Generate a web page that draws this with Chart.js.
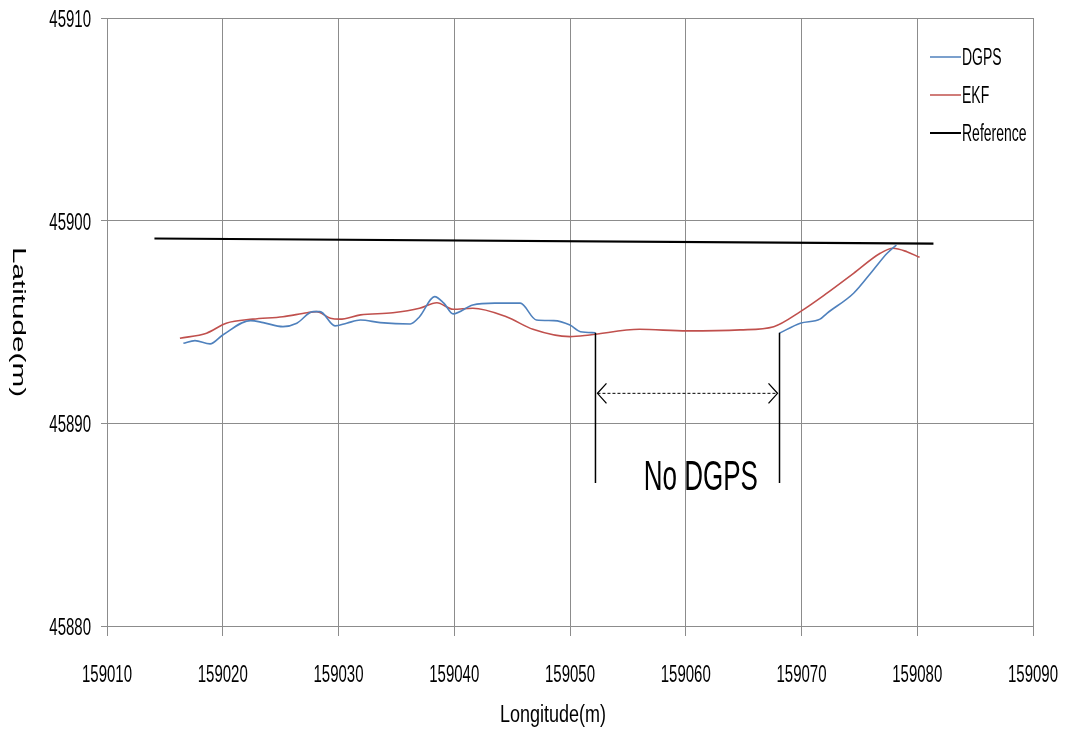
<!DOCTYPE html>
<html>
<head>
<meta charset="utf-8">
<script src="https://cdn.jsdelivr.net/npm/chart.js@4.4.1/dist/chart.umd.min.js"></script>
<style>
  html, body { margin: 0; padding: 0; background: #fff; }
  #wrap { width: 1065px; height: 735px; }
</style>
</head>
<body>
<div id="wrap"><canvas id="chart" width="1065" height="735"></canvas></div>
<script>
// values (longitude / latitude in metres)
const dgpsLon = [159016.6, 159017.6, 159018.9, 159020.0, 159022.4, 159023.5, 159025.2, 159026.4, 159027.8, 159028.4,
  159029.7, 159030.7, 159031.9, 159033.6, 159036.2, 159037.0, 159038.3, 159039.1, 159039.9, 159041.6,
  159043.5, 159045.7, 159047.1, 159048.6, 159050.0, 159050.9, 159052.2, 159060.0,
  159068.1, 159069.9, 159071.6, 159072.2, 159074.5, 159076.2, 159077.4, 159078.2];
const dgpsLat = [45893.95, 45894.08, 45893.92, 45894.36, 45895.07, 45894.97, 45894.77, 45894.94, 45895.51, 45895.51,
  45894.81, 45894.94, 45895.10, 45894.97, 45894.90, 45895.26, 45896.25, 45895.93, 45895.40, 45895.84,
  45895.93, 45895.93, 45895.10, 45895.07, 45894.85, 45894.52, 45894.47, null,
  45894.45, 45894.94, 45895.14, 45895.43, 45896.42, 45897.57, 45898.39, 45898.80];

const ekfLon = [159016.3, 159018.6, 159020.3, 159022.6, 159025.2, 159027.3, 159028.1, 159029.3, 159030.1, 159031.9,
  159034.7, 159037.0, 159038.5, 159039.9, 159041.6, 159044.5, 159046.8, 159050.0, 159051.7, 159056.0,
  159060.1, 159064.7, 159067.6, 159069.9, 159072.2, 159074.5, 159076.8, 159077.9, 159079.1, 159080.2];
const ekfLat = [45894.20, 45894.45, 45894.94, 45895.14, 45895.26, 45895.46, 45895.51, 45895.19, 45895.14, 45895.35,
  45895.46, 45895.68, 45895.95, 45895.63, 45895.68, 45895.26, 45894.64, 45894.28, 45894.36, 45894.64,
  45894.56, 45894.61, 45894.77, 45895.51, 45896.42, 45897.40, 45898.39, 45898.64, 45898.47, 45898.19];

const refLon = [159014.1, 159081.4];
const refLat = [45899.12, 45898.87];

const seriesNames = ['DGPS', 'EKF', 'Reference'];
const seriesColors = ['#4F81BD', '#C0504D', '#000000'];

// "No DGPS" annotation, in data units
const gapStartLon = 159052.2;
const gapEndLon = 159068.1;
const gapTopLat = 45894.47;
const gapBottomLat = 45887.06;
const arrowLat = 45891.48;
const noteLon = 159061.3;
const noteLat = 45886.71;
const noteText = 'No DGPS';

const xTitle = 'Longitude(m)';
const yTitle = 'Latitude(m)';

const FONT = "'Liberation Sans', Arial, sans-serif";
const STRETCH = 1.65; // the original figure is squeezed horizontally

const toPoints = (xs, ys) => xs.map((x, i) => ({ x, y: ys[i] }));

// text drawn tall and narrow like the source image
function tallText(ctx, text, x, y, size, align, k) {
  ctx.save();
  ctx.translate(x, y);
  ctx.scale(1, k || STRETCH);
  ctx.font = size + 'px ' + FONT;
  ctx.textAlign = align;
  ctx.textBaseline = 'alphabetic';
  ctx.fillStyle = '#000';
  ctx.fillText(text, 0, 0);
  ctx.restore();
}

const decorations = {
  id: 'decorations',
  afterDraw(chart) {
    const ctx = chart.ctx;
    const xs = chart.scales.x, ys = chart.scales.y;

    // tick labels
    xs.ticks.forEach(t => {
      tallText(ctx, String(t.value), xs.getPixelForValue(t.value), 682, 15, 'center');
    });
    ys.ticks.forEach(t => {
      tallText(ctx, String(t.value), 91, ys.getPixelForValue(t.value) + 9, 15, 'right');
    });

    // axis titles
    tallText(ctx, xTitle, 553, 722, 18, 'center', 1.35);
    ctx.save();
    ctx.translate(18, 322);
    ctx.scale(1, STRETCH);
    ctx.rotate(Math.PI / 2);
    ctx.font = '18px ' + FONT;
    ctx.textAlign = 'center';
    ctx.textBaseline = 'middle';
    ctx.fillStyle = '#000';
    ctx.fillText(yTitle, 0, 0);
    ctx.restore();

    // legend
    const lx = 930, ly = [57, 95, 133];
    seriesNames.forEach((name, i) => {
      ctx.save();
      ctx.strokeStyle = seriesColors[i];
      ctx.lineWidth = i === 2 ? 2 : 1.5;
      ctx.beginPath();
      ctx.moveTo(lx, ly[i]);
      ctx.lineTo(lx + 31, ly[i]);
      ctx.stroke();
      ctx.restore();
      tallText(ctx, name, lx + 32, ly[i] + 8, 14, 'left');
    });

    // no-DGPS markers
    const x1 = xs.getPixelForValue(gapStartLon), x2 = xs.getPixelForValue(gapEndLon);
    const yt = ys.getPixelForValue(gapTopLat), yb = ys.getPixelForValue(gapBottomLat);
    const ya = ys.getPixelForValue(arrowLat);
    ctx.save();
    ctx.strokeStyle = '#000';
    ctx.lineWidth = 1.5;
    ctx.beginPath();
    ctx.moveTo(x1, yt); ctx.lineTo(x1, yb);
    ctx.moveTo(x2, yt); ctx.lineTo(x2, yb);
    ctx.stroke();

    ctx.lineWidth = 1;
    ctx.setLineDash([3, 2]);
    ctx.beginPath();
    ctx.moveTo(x1 + 2, ya); ctx.lineTo(x2 - 2, ya);
    ctx.stroke();
    ctx.setLineDash([]);
    ctx.lineWidth = 1.3;
    ctx.beginPath();
    ctx.moveTo(x1 + 11, ya - 10); ctx.lineTo(x1 + 2, ya); ctx.lineTo(x1 + 11, ya + 10);
    ctx.moveTo(x2 - 11, ya - 10); ctx.lineTo(x2 - 2, ya); ctx.lineTo(x2 - 11, ya + 10);
    ctx.stroke();
    ctx.restore();

    tallText(ctx, noteText, xs.getPixelForValue(noteLon), ys.getPixelForValue(noteLat), 26, 'center');
  }
};

const lineSet = (label, data, color, width) => ({
  label,
  data,
  showLine: true,
  borderColor: color,
  backgroundColor: color,
  borderWidth: width,
  pointRadius: 0,
  cubicInterpolationMode: 'monotone',
  spanGaps: false,
  fill: false
});

new Chart(document.getElementById('chart'), {
  type: 'scatter',
  data: {
    datasets: [
      lineSet(seriesNames[0], toPoints(dgpsLon, dgpsLat), seriesColors[0], 1.6),
      lineSet(seriesNames[1], toPoints(ekfLon, ekfLat), seriesColors[1], 1.6),
      lineSet(seriesNames[2], toPoints(refLon, refLat), seriesColors[2], 2.2)
    ]
  },
  options: {
    responsive: false,
    animation: false,
    layout: { padding: { top: 18, right: 32, bottom: 0, left: 0 } },
    plugins: { legend: { display: false }, tooltip: { enabled: false } },
    scales: {
      x: {
        type: 'linear',
        min: 159010, max: 159090,
        ticks: { stepSize: 10, display: false },
        grid: { color: '#8c8c8c', lineWidth: 1, tickLength: 10 },
        border: { color: '#8c8c8c' },
        afterFit: s => { s.height = 109; }
      },
      y: {
        type: 'linear',
        min: 45880, max: 45910,
        ticks: { stepSize: 10, display: false },
        grid: { color: '#8c8c8c', lineWidth: 1, tickLength: 6 },
        border: { color: '#8c8c8c' },
        afterFit: s => { s.width = 107; }
      }
    }
  },
  plugins: [decorations]
});
</script>
</body>
</html>
